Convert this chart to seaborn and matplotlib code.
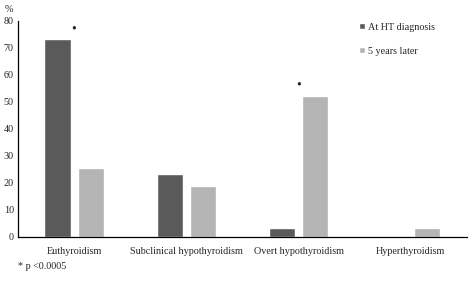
import pandas as pd
import numpy as np
import matplotlib.pyplot as plt
import seaborn as sns

# Thyroid status at diagnosis and after 5 years (%)
categories = ['Euthyroidism', 'Subclinical hypothyroidism', 'Overt hypothyroidism', 'Hyperthyroidism']
at_diagnosis = [73.3, 23.3, 3.3, 0.0]
five_years = [25.6, 18.9, 52.2, 3.3]
series_names = ['At HT diagnosis', '5 years later']
significant = ['Euthyroidism', 'Overt hypothyroidism']

df = pd.DataFrame({
    'category': categories * 2,
    'value': at_diagnosis + five_years,
    'series': [series_names[0]] * 4 + [series_names[1]] * 4,
})

sns.set_style('white')
plt.rcParams['font.family'] = ['Liberation Serif', 'DejaVu Serif']

fig = plt.figure(figsize=(4.73, 2.83), dpi=100)
ax = fig.add_axes([0.038, 0.163, 0.949, 0.763])

sns.barplot(data=df, x='category', y='value', hue='series', order=categories,
            hue_order=series_names, palette=['#5a5a5a', '#b4b4b4'],
            width=0.59, gap=0.21, ax=ax, legend=True)

ax.set_ylim(0, 80)
ax.set_yticks(range(0, 81, 10))
ax.set_xlabel('')
ax.set_ylabel('')
ax.tick_params(axis='both', length=0, labelsize=7.3, pad=3)
ax.tick_params(axis='x', pad=7)
sns.despine(ax=ax)
for side in ['left', 'bottom']:
    ax.spines[side].set_color('black')
    ax.spines[side].set_linewidth(0.9)

# significance markers
for cat in significant:
    i = categories.index(cat)
    top = max(at_diagnosis[i], five_years[i])
    ax.text(i, top + 1.5, '•', ha='center', va='bottom', fontsize=10)

ax.text(-0.03, 1.03, '%', transform=ax.transAxes, fontsize=7.3, ha='left', va='bottom')

leg = ax.legend(loc='upper left', bbox_to_anchor=(0.74, 1.035), frameon=False,
                fontsize=7.3, handlelength=0.6, handleheight=0.6, handletextpad=0.3,
                labelspacing=1.5)

fig.text(0.038, 0.06, '* p <0.0005', fontsize=7.3, ha='left', va='center')

fig.savefig('out.png', dpi=100)
